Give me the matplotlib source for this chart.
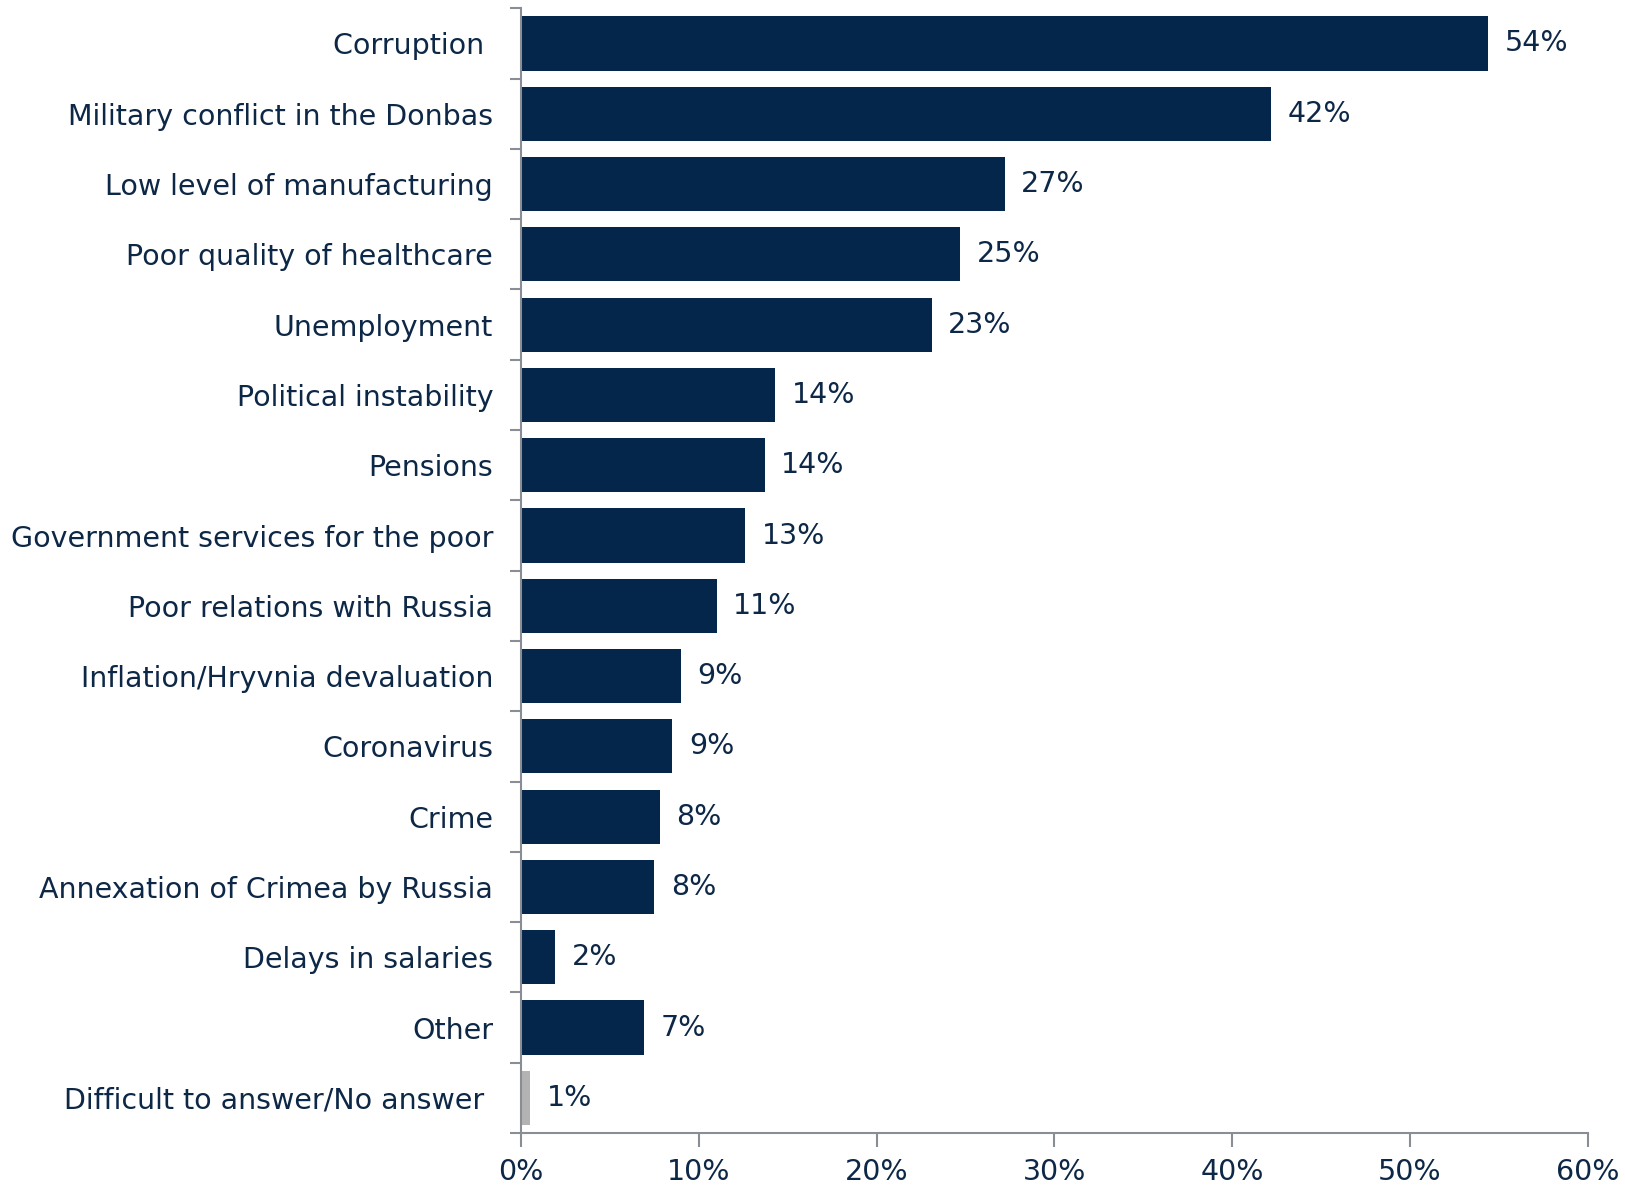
import numpy as np
import matplotlib
matplotlib.use("Agg")
import matplotlib.pyplot as plt
from matplotlib.ticker import FixedLocator, PercentFormatter

categories = ["Corruption ", "Military conflict in the Donbas", "Low level of manufacturing",
              "Poor quality of healthcare", "Unemployment", "Political instability", "Pensions",
              "Government services for the poor", "Poor relations with Russia",
              "Inflation/Hryvnia devaluation", "Coronavirus", "Crime",
              "Annexation of Crimea by Russia", "Delays in salaries", "Other",
              "Difficult to answer/No answer "]
values = [54.4, 42.2, 27.2, 24.7, 23.1, 14.3, 13.7, 12.6, 11.0, 9.0, 8.5, 7.8, 7.5, 1.9, 6.9, 0.5]
labels = ["54%", "42%", "27%", "25%", "23%", "14%", "14%", "13%", "11%", "9%", "9%", "8%",
          "8%", "2%", "7%", "1%"]

navy = "#03264a"
grey = "#b3b3b3"
text_col = "#0d2746"
spine_col = "#8a8d94"

plt.rcParams['font.family'] = ['DejaVu Sans']

fig = plt.figure(figsize=(16.25, 11.88), dpi=100)
ax = fig.add_axes([0.3206, 0.0463, 0.6564, 0.9467])

y = np.arange(len(categories))
colors = [navy] * (len(categories) - 1) + [grey]
ax.barh(y, values, height=0.77, color=colors)

for yi, v, lab in zip(y, values, labels):
    ax.annotate(lab, (v, yi), xytext=(12, 0), textcoords="offset points",
                va="center", ha="left", fontsize=20.5, color=text_col)

ax.set_ylim(len(categories) - 0.5, -0.5)
ax.set_xlim(0, 60)
ax.set_yticks(y)
ax.set_yticklabels(categories, fontsize=20.5, color=text_col)
ax.tick_params(axis="y", length=0, pad=20)
ax.yaxis.set_minor_locator(FixedLocator(np.arange(-0.5, len(categories), 1.0)))
ax.tick_params(axis="y", which="minor", length=8, width=1.5, color=spine_col)

ax.set_xticks(np.arange(0, 61, 10))
ax.xaxis.set_major_formatter(PercentFormatter(decimals=0))
ax.tick_params(axis="x", length=10, width=1.5, color=spine_col, labelsize=20.5,
               labelcolor=text_col, pad=8)

for s in ["top", "right"]:
    ax.spines[s].set_visible(False)
for s in ["left", "bottom"]:
    ax.spines[s].set_color(spine_col)
    ax.spines[s].set_linewidth(1.5)

plt.savefig("out.png", dpi=100)
